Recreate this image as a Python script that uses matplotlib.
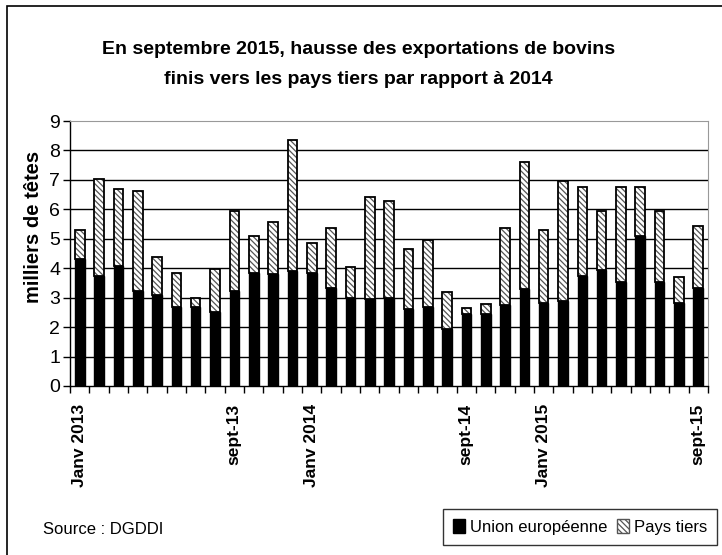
import numpy as np
import matplotlib
matplotlib.use("Agg")
import matplotlib.pyplot as plt
from matplotlib.patches import Patch, Rectangle

# monthly exports, thousands of heads, Jan 2013 -> Sept 2015
ue = [4.33, 3.74, 4.08, 3.21, 3.08, 2.69, 2.69, 2.51, 3.21, 3.85, 3.81, 3.92,
      3.85, 3.34, 3.00, 2.94, 2.99, 2.61, 2.68, 1.94, 2.43, 2.44, 2.74, 3.28,
      2.82, 2.87, 3.74, 3.93, 3.54, 5.11, 3.54, 2.82, 3.34]
total = [5.29, 7.03, 6.70, 6.63, 4.38, 3.84, 2.98, 3.98, 5.96, 5.10, 5.56, 8.34,
         4.84, 5.37, 4.05, 6.43, 6.30, 4.64, 4.97, 3.19, 2.66, 2.80, 5.37, 7.62,
         5.31, 6.96, 6.76, 5.96, 6.76, 6.76, 5.96, 3.71, 5.43]
label_idx = [0, 8, 12, 20, 24, 32]
label_txt = ["Janv 2013", "sept-13", "Janv 2014", "sept-14", "Janv 2015", "sept-15"]

ue = np.array(ue)
tiers = np.array(total) - ue
x = np.arange(len(ue))

plt.rcParams['font.family'] = ['Liberation Sans', 'DejaVu Sans']
plt.rcParams['hatch.linewidth'] = 0.9
hatch = '\\\\\\\\\\\\'
hatch_col = '#555555'

fig = plt.figure(figsize=(7.22, 5.55), dpi=100)
ax = fig.add_axes([70 / 722, 1 - 386 / 555, 638 / 722, 265 / 555])

w = 0.5
ax.bar(x, ue, w, color='black', edgecolor='black', linewidth=1, zorder=3)
ax.bar(x, tiers, w, bottom=ue, color='white', edgecolor=hatch_col,
       hatch=hatch, linewidth=0, zorder=3)
ax.bar(x, tiers, w, bottom=ue, fill=False, edgecolor='black', linewidth=1.3, zorder=4)

ax.set_xlim(-0.5, len(ue) - 0.5)
ax.set_ylim(0, 9)
ax.set_yticks(range(10))
ax.tick_params(axis='y', labelsize=14, length=5, direction='out', width=1, pad=2)
for v in range(1, 9):
    ax.axhline(v, color='black', linewidth=1, zorder=1)

ax.set_xticks(np.arange(-0.5, len(ue), 1))
ax.set_xticklabels([])
ax.tick_params(axis='x', length=5, direction='out', width=1)
ax.set_xticks(label_idx, minor=True)
ax.set_xticklabels(label_txt, minor=True, rotation=90, fontsize=12.5,
                   fontweight='bold')
ax.tick_params(axis='x', which='minor', length=0, pad=13)

ax.spines['top'].set_color('#999999')
ax.spines['right'].set_color('#999999')
ax.spines['left'].set_linewidth(1)
ax.spines['bottom'].set_linewidth(1)

ax.set_ylabel('milliers de têtes', fontsize=14.5, fontweight='bold')
ax.yaxis.set_label_coords(-0.042, 0.6)

fig.text(0.496, 1 - 50 / 555,
         "En septembre 2015, hausse des exportations de bovins",
         ha='center', va='center', fontsize=14, fontweight='bold')
fig.text(0.496, 1 - 80 / 555,
         "finis vers les pays tiers par rapport à 2014",
         ha='center', va='center', fontsize=14, fontweight='bold')

fig.text(43 / 722, 1 - 530 / 555, "Source : DGDDI", ha='left', va='center',
         fontsize=12)

handles = [Patch(facecolor='black', edgecolor='black'),
           Patch(facecolor='white', edgecolor=hatch_col, hatch=hatch)]
leg = fig.legend(handles, ["Union européenne", "Pays tiers"], ncol=2,
                 loc='center', bbox_to_anchor=(580 / 722, 1 - 527 / 555),
                 frameon=True, fancybox=False, edgecolor='black',
                 handlelength=0.7, handleheight=0.9, handletextpad=0.3,
                 columnspacing=0.6, borderpad=0.6, prop={'size': 12})
leg.get_frame().set_linewidth(1)

fig.patches.append(Rectangle((7 / 722, -0.1), 1.1, 1 - 6 / 555 + 0.1,
                             transform=fig.transFigure, fill=False,
                             edgecolor='black', linewidth=1.2))

fig.savefig("out.png", dpi=100)
